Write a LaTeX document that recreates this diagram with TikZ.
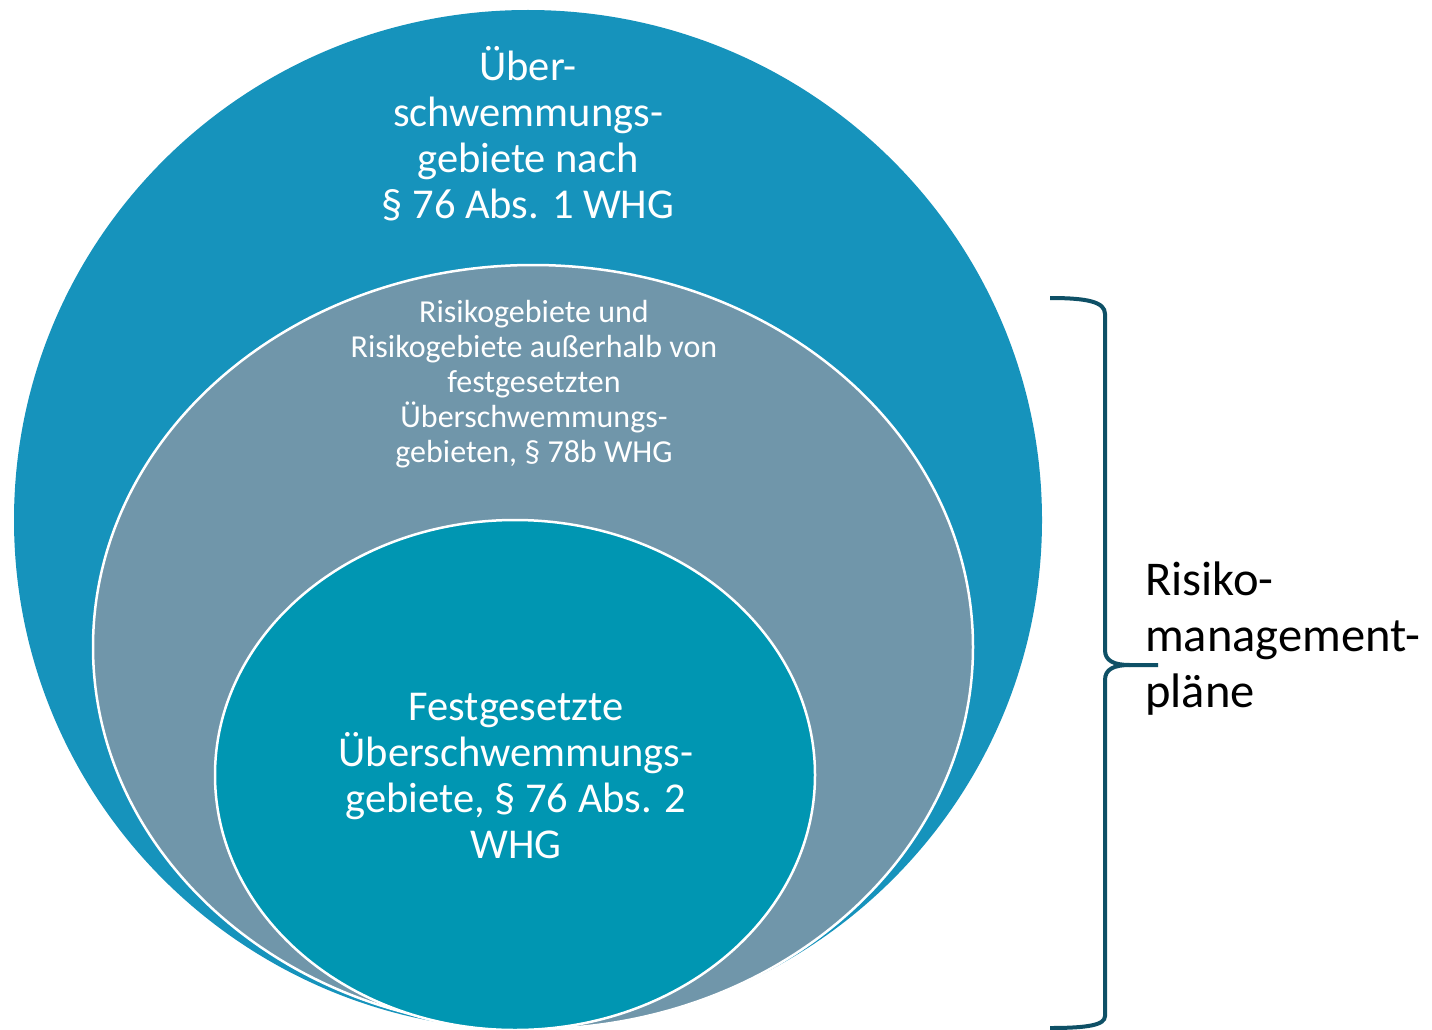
\documentclass[tikz,border=0pt]{standalone}
\usepackage{fontspec}
\setmainfont{Carlito}
\usetikzlibrary{shapes.geometric}
\definecolor{outerblue}{RGB}{22,147,188}
\definecolor{midgrey}{RGB}{112,150,170}
\definecolor{innerteal}{RGB}{0,150,178}
\definecolor{bracecol}{RGB}{14,80,102}
\tikzset{
  area/.style={ellipse, inner sep=0pt, outer sep=0pt},
  ring/.style={area, draw=white, line width=2.5pt},
  wtext/.style={text=white, align=center, inner sep=0pt},
}
\begin{document}
\begin{tikzpicture}[x=1pt,y=-1pt]
\useasboundingbox (0,0) rectangle (1432,1030);
\clip (0,0) rectangle (1432,1030);
\fill[white] (0,0) rectangle (1432,1030);
% ellipses
\node[area, fill=outerblue, minimum width=1028pt, minimum height=1020pt] (outer) at (528,520) {};
\node[ring, fill=midgrey, minimum width=880pt, minimum height=764pt] (middle) at (533,647) {};
\node[ring, fill=innerteal, minimum width=600pt, minimum height=510pt] (inner) at (515,775) {};
% texts
\node[wtext, font=\fontsize{42.5}{46}\selectfont] (t1) at (528,134)
  {Über-\\schwemmungs-\\gebiete nach\\§ 76 Abs. 1 WHG};
\node[wtext, font=\fontsize{32}{35}\selectfont] (t2) at (534,384)
  {Risikogebiete und\\Risikogebiete außerhalb von\\festgesetzten\\Überschwemmungs-\\gebieten, § 78b WHG};
\node[wtext, font=\fontsize{42.5}{46}\selectfont] (t3) at (516,776)
  {Festgesetzte\\Überschwemmungs-\\gebiete, § 76 Abs. 2\\WHG};
\node[text=black, align=left, anchor=west, inner sep=0pt, font=\fontsize{48.5}{56}\selectfont] (t4) at (1145,639)
  {Risiko-\\management-\\pläne};
% brace
\coordinate (btop) at (1050,298);
\coordinate (bbot) at (1050,1028);
\coordinate (btip) at (1158,665);
\draw[bracecol, line width=4pt]
  (btop) .. controls (1088,298) and (1105,302) .. (1105,314)
  -- (1105,650) .. controls (1105,661) and (1114,665) .. (1130,665) -- (btip);
\draw[bracecol, line width=4pt]
  (1130,665) .. controls (1114,665) and (1105,669) .. (1105,680)
  -- (1105,1016) .. controls (1105,1025) and (1088,1028) .. (bbot);
\end{tikzpicture}
\end{document}
